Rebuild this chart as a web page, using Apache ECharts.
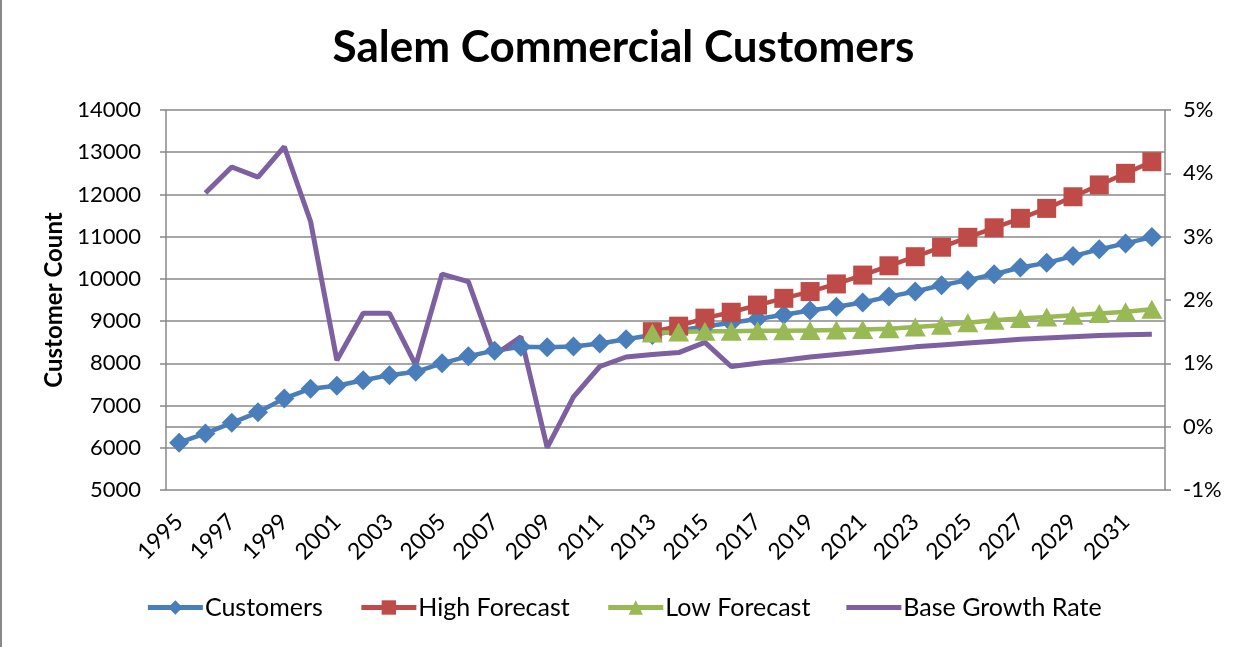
<!DOCTYPE html>
<html>
<head>
<meta charset="utf-8">
<script src="https://cdn.jsdelivr.net/npm/echarts@6/dist/echarts.min.js"></script>
<style>
  html, body { margin: 0; padding: 0; background: #fff; }
  #echarts { width: 1247px; height: 647px; }
</style>
</head>
<body>
<div id="echarts"></div>
<script>
var years = ['1995', '1996', '1997', '1998', '1999', '2000', '2001', '2002', '2003', '2004',
    '2005', '2006', '2007', '2008', '2009', '2010', '2011', '2012', '2013', '2014',
    '2015', '2016', '2017', '2018', '2019', '2020', '2021', '2022', '2023', '2024',
    '2025', '2026', '2027', '2028', '2029', '2030', '2031', '2032'];

var customers = [6120, 6340, 6590, 6840, 7170, 7400, 7470, 7600, 7720, 7800,
    8000, 8170, 8300, 8390, 8380, 8400, 8470, 8570, 8670, 8780,
    8870, 8960, 9050, 9150, 9250, 9340, 9440, 9580, 9700, 9850,
    9970, 10110, 10270, 10380, 10540, 10700, 10840, 10990];

// forecasts start in 2013
var highForecast = [null, null, null, null, null, null, null, null, null, null,
    null, null, null, null, null, null, null, null, 8750, 8880,
    9070, 9210, 9380, 9540, 9700, 9880, 10090, 10310, 10525, 10750,
    10985, 11210, 11435, 11670, 11945, 12225, 12500, 12775];

var lowForecast = [null, null, null, null, null, null, null, null, null, null,
    null, null, null, null, null, null, null, null, 8720, 8740,
    8760, 8760, 8770, 8770, 8780, 8790, 8800, 8820, 8860, 8900,
    8960, 9020, 9060, 9100, 9140, 9180, 9220, 9280];

// percent, right axis
var growthRate = [null, 3.69, 4.10, 3.94, 4.42, 3.24, 1.05, 1.79, 1.79, 0.97,
    2.41, 2.29, 1.13, 1.42, -0.33, 0.47, 0.95, 1.10, 1.14, 1.17,
    1.33, 0.95, 1.00, 1.05, 1.10, 1.14, 1.18, 1.22, 1.26, 1.29,
    1.32, 1.35, 1.38, 1.40, 1.42, 1.44, 1.45, 1.46];

var font = 'Lato';
var gray = '#888888';

var myChart = echarts.init(document.getElementById('echarts'));

var option = {
    animation: false,
    backgroundColor: '#fff',
    graphic: [{
        type: 'rect',
        shape: { x: 0, y: 0, width: 2, height: 647 },
        style: { fill: gray }
    }],
    title: {
        text: 'Salem Commercial Customers',
        left: 'center',
        top: 21,
        textStyle: {
            fontFamily: font,
            fontSize: 44,
            fontWeight: 'bold',
            color: '#000'
        }
    },
    legend: {
        data: ['Customers', 'High Forecast', 'Low Forecast',
            { name: 'Base Growth Rate', icon: 'path://M0,0H56V5H0Z' }],
        bottom: 22,
        left: 'center',
        itemWidth: 55,
        itemHeight: 18,
        itemGap: 36,
        lineStyle: { width: 5 },
        textStyle: {
            fontFamily: font,
            fontSize: 25,
            color: '#000',
            padding: [0, 0, 0, -3]
        }
    },
    grid: {
        left: 166,
        right: 82,
        top: 110,
        bottom: 157
    },
    xAxis: {
        type: 'category',
        data: years,
        boundaryGap: true,
        axisLine: { lineStyle: { color: gray, width: 1.5 } },
        axisTick: { interval: 0, length: 6, lineStyle: { color: gray, width: 1.5 } },
        axisLabel: {
            interval: 1,
            rotate: 45,
            margin: 28,
            fontFamily: font,
            fontSize: 23,
            color: '#000'
        },
        splitLine: { show: false }
    },
    yAxis: [{
        type: 'value',
        min: 5000,
        max: 14000,
        interval: 1000,
        name: 'Customer Count',
        nameLocation: 'middle',
        nameGap: 98,
        nameTextStyle: {
            fontFamily: font,
            fontSize: 24,
            fontWeight: 'bold',
            color: '#000'
        },
        axisLine: { show: true, lineStyle: { color: gray, width: 1.5 } },
        axisTick: { show: true, length: 6, lineStyle: { color: gray, width: 1.5 } },
        axisLabel: {
            margin: 25,
            formatter: function (v) { return String(v); },
            fontFamily: font,
            fontSize: 22,
            color: '#000'
        },
        splitLine: { lineStyle: { color: gray, width: 1.5 } }
    }, {
        type: 'value',
        min: -1,
        max: 5,
        interval: 1,
        position: 'right',
        axisLine: { show: true, lineStyle: { color: gray, width: 1.5 } },
        axisTick: { show: true, length: 6, lineStyle: { color: gray, width: 1.5 } },
        axisLabel: {
            margin: 18,
            formatter: '{value}%',
            fontFamily: font,
            fontSize: 22,
            color: '#000'
        },
        splitLine: { show: false }
    }],
    series: [{
        name: 'Customers',
        type: 'line',
        data: customers,
        showAllSymbol: true,
        symbol: 'diamond',
        symbolSize: 20,
        lineStyle: { color: '#4A7EBB', width: 4.5 },
        itemStyle: { color: '#4A7EBB' }
    }, {
        name: 'High Forecast',
        type: 'line',
        data: highForecast,
        showAllSymbol: true,
        symbol: 'rect',
        symbolSize: 19,
        lineStyle: { color: '#BE4B48', width: 4.5 },
        itemStyle: { color: '#BE4B48' }
    }, {
        name: 'Low Forecast',
        type: 'line',
        data: lowForecast,
        showAllSymbol: true,
        symbol: 'triangle',
        symbolSize: [21, 19],
        lineStyle: { color: '#98B954', width: 4.5 },
        itemStyle: { color: '#98B954' }
    }, {
        name: 'Base Growth Rate',
        type: 'line',
        yAxisIndex: 1,
        data: growthRate,
        symbol: 'none',
        lineStyle: { color: '#7D60A0', width: 5 },
        itemStyle: { color: '#7D60A0' }
    }]
};
myChart.setOption(option);
</script>
</body>
</html>
